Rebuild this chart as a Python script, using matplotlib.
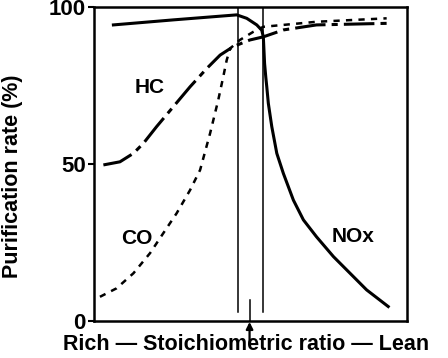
"""Catalyst purification rate vs air-fuel ratio (three-way catalyst window)."""

import matplotlib
matplotlib.use('Agg')
import matplotlib.pyplot as plt


# Trục x quy ước 0..100 (Rich -> Lean), không có số trên trục
nox_x = [6.2, 25.3, 45.6, 48.8, 52.0, 53.6, 54.1, 54.5, 54.9, 55.2, 55.7,
         56.8, 58.4, 60.5, 63.7, 66.9, 71.1, 76.5, 81.8, 87.1, 94.0]
nox_y = [94.3, 95.9, 97.5, 96.4, 94.3, 92.6, 90.5, 82, 77.5, 74.6, 69.3,
         61.9, 53.4, 47, 38.5, 32.2, 26.8, 20.5, 15.2, 9.9, 4.6]

hc_x = [3.0, 8.3, 12.6, 15.8, 20, 25.3, 30.7, 36, 40.3, 44.5, 49.8, 54.1,
        60.5, 71.1, 93.5]
hc_y = [49.7, 50.7, 53.4, 56.6, 61.9, 68.2, 74.6, 80.4, 84.7, 87.4, 89.5,
        90.5, 92.7, 94.3, 94.8]

co_x = [1.9, 7.2, 12.6, 17.9, 22.1, 26.4, 30.7, 33.9, 37.1, 39.7, 41.3,
        42.4, 43.5, 46.6, 50.9, 54.1, 71.1, 93.5]
co_y = [7.7, 10.4, 15.2, 21.6, 27.9, 34.3, 41.7, 48.1, 59.8, 70.4, 77.8,
        83.1, 86.8, 89.5, 92.1, 93.7, 95.3, 96.4]

window_x = [46.0, 54.0]
stoich_x = 49.7
y_ticks = [0, 50, 100]

FONT = 'Liberation Sans'


def main():
    fig = plt.figure(figsize=(4.48, 3.58), dpi=100)
    ax = fig.add_axes([0.2098, 0.1034, 0.6987, 0.877])

    ax.plot(nox_x, nox_y, color='black', lw=2.2, solid_joinstyle='round')
    ax.plot(hc_x, hc_y, color='black', lw=2.2, dashes=(10, 2, 2, 2))
    ax.plot(co_x, co_y, color='black', lw=1.8, dashes=(2.5, 2.5))

    # cửa sổ hoạt động quanh tỉ lệ hoà khí lý tưởng
    for wx in window_x:
        ax.plot([wx, wx], [3, 100], color='black', lw=1.1)
    ax.plot([stoich_x, stoich_x], [0, 6.7], color='black', lw=1.1)
    ax.annotate('', xy=(stoich_x, -0.3), xytext=(stoich_x, -6.8),
                xycoords='data', textcoords='data', annotation_clip=False,
                arrowprops=dict(arrowstyle='-|>', color='black', lw=1.6,
                                mutation_scale=10, shrinkA=0, shrinkB=0))

    kw = dict(fontfamily=FONT, fontweight='bold', fontsize=15,
              ha='center', va='center')
    ax.text(17.9, 74.5, 'HC', **kw)
    ax.text(13.6, 26.3, 'CO', **kw)
    ax.text(82.9, 27.0, 'NOx', **kw)

    ax.set_xlim(0, 100)
    ax.set_ylim(0, 100)
    ax.set_xticks([])
    ax.set_yticks(y_ticks)
    ax.set_yticklabels([str(t) for t in y_ticks], fontfamily=FONT,
                       fontweight='bold', fontsize=16)
    ax.tick_params(axis='y', length=4, width=1.5, pad=2)
    for sp in ax.spines.values():
        sp.set_linewidth(1.8)

    ax.set_ylabel('Purification rate (%)', fontfamily=FONT,
                  fontweight='bold', fontsize=15.5, va='center')
    ax.yaxis.set_label_coords(-0.259, 0.46)
    ax.set_xlabel('Rich \u2014 Stoichiometric ratio \u2014 Lean',
                  fontfamily=FONT, fontweight='bold', fontsize=15.5)
    ax.xaxis.set_label_coords(0.487, -0.042)

    fig.savefig('out.png', dpi=100)


if __name__ == '__main__':
    main()
